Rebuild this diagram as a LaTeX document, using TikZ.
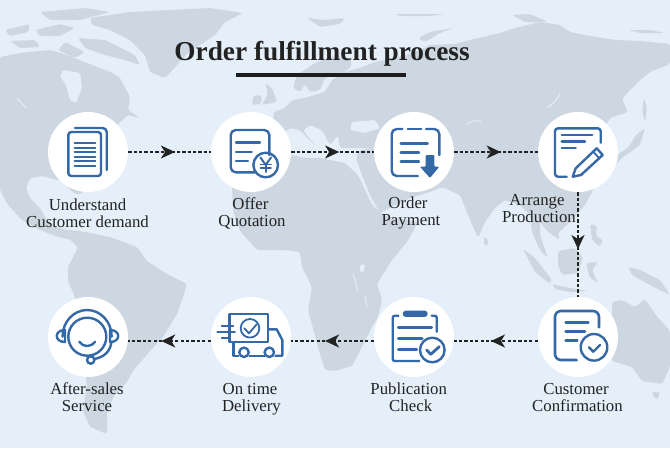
\documentclass[tikz,border=0pt]{standalone}
\usepackage{fontspec}
\setmainfont{Liberation Serif}
\usetikzlibrary{arrows.meta,decorations.markings}
\definecolor{sea}{HTML}{E4EFFA}
\definecolor{land}{HTML}{CDD7E1}
\definecolor{iconblue}{HTML}{3568A6}
\definecolor{inkdark}{HTML}{222222}
\tikzset{
  landmass/.style={fill=land,draw=none,rounded corners=2.5pt},
  seapatch/.style={fill=sea,draw=none,rounded corners=1.5pt},
  lakeline/.style={draw=sea,line width=1pt,line cap=round},
  stepcircle/.style={circle,fill=white,draw=none,minimum size=80pt,inner sep=0pt},
  icon/.style={draw=iconblue,line width=2.4pt,line cap=round,line join=round},
  iconfill/.style={fill=iconblue,draw=none},
  steplabel/.style={font=\fontsize{16.8}{17}\selectfont,text=inkdark,align=center,inner sep=0pt},
  flow/.style={draw=inkdark,line width=1.5pt,dash pattern=on 3.3pt off 2.1pt,
    postaction={decorate},
    decoration={markings,mark=at position #1 with {\arrow[inkdark]{Stealth[length=14pt,width=13pt,inset=4pt]}}}}
}
\begin{document}
\begin{tikzpicture}[x=1pt,y=-1pt]
\useasboundingbox (0,0) rectangle (670,448);
\fill[sea] (0,0) rectangle (670,448);
% --- world map ---
% North America
\fill[landmass] (0,57) -- (20,53) -- (50,50) -- (67,55) -- (87,63) -- (100,68) -- (113,73) -- (120,78) -- (130,97) -- (128,110) -- (140,118) -- (128,115) -- (118,124) -- (110,150) -- (90,188) -- (78,195) -- (70,190) -- (66,182) -- (58,180) -- (42,176) -- (30,178) -- (26,188) -- (30,198) -- (40,208) -- (47,220) -- (58,228) -- (68,230) -- (78,236) -- (72,240) -- (58,237) -- (40,230) -- (22,220) -- (8,205) -- (0,190) -- cycle;
\fill[seapatch] (63,70) -- (80,73) -- (82,88) -- (76,103) -- (70,100) -- (66,85) -- (60,76) -- cycle;
\draw[lakeline] (17,98) -- (26,108);
\fill[landmass] (78,38) -- (105,40) -- (135,55) -- (140,65) -- (125,60) -- (105,55) -- (85,48) -- cycle;
\fill[landmass] (35,30) -- (60,24) -- (75,28) -- (60,36) -- (40,36) -- cycle;
\fill[landmass] (5,30) -- (30,24) -- (28,32) -- (10,36) -- cycle;
\fill[landmass] (40,12) -- (85,8) -- (110,12) -- (80,20) -- (50,20) -- cycle;
\fill[landmass] (65,42) -- (85,52) -- (75,58) -- (58,50) -- cycle;
\fill[landmass] (10,41) -- (35,40) -- (40,47) -- (20,48) -- cycle;
% Greenland
\fill[landmass] (90,18) -- (130,12) -- (170,10) -- (210,8) -- (243,13) -- (225,22) -- (215,35) -- (200,45) -- (190,50) -- (180,62) -- (165,78) -- (150,72) -- (145,55) -- (130,40) -- (110,30) -- (92,25) -- cycle;
% South America
\fill[landmass] (57,229) -- (80,231) -- (110,237) -- (137,247) -- (147,261) -- (167,274) -- (187,284) -- (183,297) -- (177,314) -- (163,337) -- (150,351) -- (132,372) -- (128,381) -- (115,394) -- (107,411) -- (107,434) -- (90,427) -- (83,411) -- (87,384) -- (80,340) -- (75,297) -- (68,281) -- (68,267) -- (78,247) -- (67,237) -- cycle;
% Africa
\fill[landmass] (232,186) -- (240,165) -- (262,150) -- (291,155) -- (305,158) -- (320,158) -- (345,163) -- (358,175) -- (372,205) -- (385,216) -- (418,222) -- (407,242) -- (392,260) -- (377,284) -- (382,300) -- (378,317) -- (372,327) -- (362,347) -- (352,366) -- (335,371) -- (325,370) -- (320,354) -- (308,310) -- (312,287) -- (302,267) -- (300,252) -- (285,250) -- (257,250) -- (240,231) -- (233,210) -- cycle;
\draw[lakeline] (353,274) -- (358,291);
\draw[lakeline] (365,296) -- (367,307);
\fill[seapatch] (360,265) -- (365,264) -- (364,272) -- (360,272) -- cycle;
% Eurasia
\fill[landmass] (272,128) -- (274,112) -- (285,108) -- (292,100) -- (305,98) -- (325,92) -- (332,80) -- (345,72) -- (360,68) -- (375,62) -- (395,58) -- (415,52) -- (430,45) -- (455,44) -- (470,40) -- (500,33) -- (515,28) -- (540,22) -- (560,25) -- (570,32) -- (590,36) -- (615,40) -- (640,41) -- (670,44) -- (670,64) -- (650,72) -- (640,80) -- (628,92) -- (622,100) -- (628,112) -- (610,118) -- (600,135) -- (610,150) -- (600,175) -- (592,192) -- (585,205) -- (570,222) -- (558,233) -- (560,240) -- (548,232) -- (540,222) -- (540,235) -- (548,258) -- (540,250) -- (532,232) -- (530,215) -- (520,205) -- (505,200) -- (495,208) -- (485,222) -- (478,238) -- (468,215) -- (460,195) -- (442,187) -- (430,192) -- (410,198) -- (395,205) -- (380,213) -- (370,195) -- (362,175) -- (356,158) -- (360,150) -- (375,148) -- (345,148) -- (340,148) -- (338,135) -- (330,145) -- (322,130) -- (310,125) -- (303,130) -- (312,142) -- (316,147) -- (300,130) -- (290,128) -- (280,135) -- cycle;
% Scandinavia
\fill[landmass] (293,88) -- (297,75) -- (315,63) -- (335,56) -- (350,58) -- (352,65) -- (345,72) -- (325,78) -- (320,90) -- (310,92) -- (305,84) -- (300,92) -- cycle;
% inland seas
\fill[seapatch] (352,122) -- (375,120) -- (380,128) -- (365,133) -- (350,130) -- cycle;
\draw[lakeline] (548,107) .. controls (555,103) and (558,98) .. (560,93);
\draw[lakeline] (467,125) .. controls (470,120) and (474,121) .. (481,121);
% British Isles and northern islands
\fill[landmass] (265,83) -- (272,88) -- (277,102) -- (262,105) -- (268,94) -- cycle;
\fill[landmass] (253,96) -- (262,95) -- (261,104) -- (252,105) -- cycle;
\fill[landmass] (307,18) -- (325,20) -- (345,18) -- (340,24) -- (320,27) -- cycle;
\fill[landmass] (418,38) -- (430,32) -- (453,28) -- (440,33) -- (425,42) -- cycle;
\fill[landmass] (395,14) -- (445,14) -- (430,16) -- (400,16) -- cycle;
\fill[landmass] (512,15) -- (530,14) -- (548,22) -- (525,22) -- cycle;
\fill[landmass] (628,30) -- (650,30) -- (665,33) -- (640,33) -- cycle;
% Japan and Sakhalin
\fill[landmass] (645,128) -- (640,145) -- (622,158) -- (615,165) -- (612,158) -- (628,148) -- (636,135) -- cycle;
\fill[landmass] (644,98) -- (647,108) -- (645,122) -- (642,110) -- cycle;
% South-east Asia
\fill[landmass] (558,251) -- (575,248) -- (583,258) -- (578,273) -- (562,275) -- (558,265) -- cycle;
\fill[landmass] (523,249) -- (535,258) -- (552,280) -- (550,284) -- (535,272) -- cycle;
\fill[landmass] (552,284) -- (570,288) -- (588,291) -- (570,292) -- (555,289) -- cycle;
\fill[landmass] (586,263) -- (598,262) -- (592,270) -- (598,283) -- (590,278) -- cycle;
\fill[landmass] (590,224) -- (597,226) -- (596,236) -- (603,240) -- (600,247) -- (592,240) -- cycle;
\fill[landmass] (628,267) -- (640,270) -- (660,280) -- (670,295) -- (650,285) -- (632,275) -- cycle;
\fill[landmass] (484,236) -- (488,240) -- (488,246) -- (484,245) -- cycle;
% Australia
\fill[landmass] (612,302) -- (622,300) -- (635,307) -- (645,299) -- (655,314) -- (670,331) -- (670,367) -- (662,384) -- (642,381) -- (632,367) -- (612,361) -- cycle;
\fill[landmass] (652,392) -- (660,392) -- (658,399) -- (654,398) -- cycle;
% --- title ---
\node[font=\fontsize{27.3}{30}\selectfont\bfseries,text=inkdark,inner sep=0pt] (title) at (322,54) {Order fulfillment process};
\fill[fill=inkdark!85!black] (236,73) rectangle (406,77);
% --- step circles ---
\node[stepcircle] (s1) at (88,152) {};
\node[stepcircle] (s2) at (251,152) {};
\node[stepcircle] (s3) at (414,152) {};
\node[stepcircle] (s4) at (578,152) {};
\node[stepcircle] (s5) at (578,337) {};
\node[stepcircle] (s6) at (414,337) {};
\node[stepcircle] (s7) at (251,337) {};
\node[stepcircle] (s8) at (88,337) {};
% --- connectors ---
\draw[flow=0.566] (s1) -- (s2);
\draw[flow=0.58] (s2) -- (s3);
\draw[flow=0.556] (s3) -- (s4);
\draw[flow=0.543] (s4) -- (s5);
\draw[flow=0.56] ([yshift=-4pt]s5.west) -- ([yshift=-4pt]s6.east);
\draw[flow=0.59] ([yshift=-4pt]s6.west) -- ([yshift=-4pt]s7.east);
\draw[flow=0.6] ([yshift=-4pt]s7.west) -- ([yshift=-4pt]s8.east);
% --- icon 1: documents ---
\draw[icon,rounded corners=3pt] (68.3,132) rectangle (101,176);
\draw[icon,rounded corners=4pt] (75,128) -- (106.7,128) -- (106.7,170);
\foreach \yy in {143.3,147.7,152.3,156.7,161,165.7}
  \draw[icon,line width=1.8pt] (74.5,\yy) -- (95.5,\yy);
% --- icon 2: quotation ---
\draw[icon,rounded corners=5pt] (269.3,155) -- (269.3,130) -- (230.7,130) -- (230.7,172.3) -- (255,172.3);
\draw[icon] (236,142.3) -- (260,142.3);
\draw[icon] (236,151.7) -- (251.7,151.7);
\draw[icon] (236,161) -- (248,161);
\draw[icon] (265.7,165) circle (12.3);
\draw[icon,line width=2pt] (260.5,157.5) -- (265.7,165) -- (271,157.5);
\draw[icon,line width=2pt] (265.7,165) -- (265.7,172);
\draw[icon,line width=1.7pt] (260.5,164.5) -- (271,164.5);
\draw[icon,line width=1.7pt] (260.5,168.3) -- (271,168.3);
% --- icon 3: payment ---
\draw[icon,rounded corners=5pt] (402.5,129) -- (391.7,129) -- (391.7,176) -- (418,176);
\draw[icon] (407.7,129) -- (421.3,129);
\draw[icon,rounded corners=5pt] (426,129) -- (439.3,129) -- (439.3,155);
\draw[icon] (400.7,143.3) -- (427.7,143.3);
\draw[icon] (400.7,152.3) -- (419,152.3);
\draw[icon] (400.7,161.3) -- (419,161.3);
\fill[iconfill,rounded corners=1pt] (425.7,155) -- (434.3,155) -- (434.3,166.7) -- (439.3,166.7) -- (430,178) -- (420,166.7) -- (425.7,166.7) -- cycle;
% --- icon 4: production ---
\draw[icon,rounded corners=3pt] (600.7,142.7) -- (600.7,128.3) -- (555,128.3) -- (555,176.7) -- (566.7,176.7);
\draw[icon] (561.7,135) -- (592.3,135);
\draw[icon] (561.7,141.3) -- (585,141.3);
\draw[icon] (561.7,147.7) -- (575.7,147.7);
\draw[icon] (572.7,176.7) -- (575.7,168.3) -- (596.7,148.3) -- (602.7,155) -- (581,175) -- cycle;
\draw[icon,line width=1.8pt] (593.3,151.7) -- (599.3,158.3);
% --- icon 5: confirmation ---
\draw[icon,line width=2.6pt,rounded corners=6pt] (599,327.3) -- (599,311) -- (555,311) -- (555,360) -- (576.7,360);
\draw[icon,line width=2.8pt] (565.7,322.7) -- (588.3,322.7);
\draw[icon,line width=2.8pt] (565.7,331.3) -- (585,331.3);
\draw[icon,line width=2.8pt] (565.7,340.7) -- (577.3,340.7);
\draw[icon,line width=2.4pt] (594,347.3) circle (13.3);
\draw[icon] (589,347.3) -- (593.3,351.7) -- (600,345);
% --- icon 6: publication check ---
\fill[iconfill,rounded corners=3pt] (402.7,310.7) rectangle (427.7,316.9);
\draw[icon,line cap=butt,rounded corners=2pt] (399,315.7) -- (392.7,315.7) -- (392.7,361) -- (420,361);
\draw[icon,rounded corners=2pt] (431.7,315.7) -- (436.7,315.7) -- (436.7,331.7);
\draw[icon,line width=2.6pt] (398.3,327.7) -- (431.7,327.7);
\draw[icon,line width=2.6pt] (398.3,338.7) -- (422.3,338.7);
\draw[icon,line width=2.6pt] (398.3,349.7) -- (416.7,349.7);
\draw[icon,line width=2.4pt] (432.3,350) circle (12.3);
\draw[icon,line width=2.8pt] (426.7,350) -- (430.7,354.3) -- (439.3,346.7);
% --- icon 7: truck ---
\draw[icon,line cap=butt] (229.3,314) rectangle (267.7,341.7);
\draw[icon,line width=1.8pt] (250,328.3) circle (9.3);
\draw[icon,line width=1.8pt] (244.3,328.3) -- (249,333.3) -- (256.7,324.3);
\draw[icon,line width=1.8pt] (221.7,325.7) -- (233.3,325.7);
\draw[icon,line width=1.8pt] (217.3,331.7) -- (235,331.7);
\draw[icon,line width=1.8pt] (221.7,337.7) -- (230,337.7);
\draw[icon,line cap=butt] (267.7,329.3) -- (276.7,329.3) -- (282.3,340) -- (282.3,355.7) -- (274.5,355.7);
\draw[icon,line cap=butt] (233.3,341.7) -- (233.3,355.7) -- (239.3,355.7);
\draw[icon,line cap=butt] (248.7,355.7) -- (264.6,355.7);
\draw[icon] (244,352.3) circle (4.7);
\draw[icon] (269.3,352.3) circle (4.7);
% --- icon 8: headset ---
\draw[icon] (87.3,336.7) circle (19);
\draw[icon] (62.5,336.7) arc (180:360:24.6 and 26.7);
\draw[icon] (65,330) .. controls (54,330) and (54,342) .. (65,342) -- cycle;
\draw[icon] (110,330) .. controls (121,330) and (121,342) .. (110,342) -- cycle;
\draw[icon] (111.5,342) .. controls (110,352) and (104,357) .. (94.5,359);
\draw[icon] (90.7,360) circle (3.7);
\draw[icon] (79.3,341.7) .. controls (83,347.5) and (91,347.5) .. (95,341.7);
% --- labels ---
\node[steplabel] (l1) at (87.5,213) {Understand\\Customer demand};
\node[steplabel] (l2) at (252,213) {\mbox{Offer\kern3pt}\\Quotation};
\node[steplabel] (l3) at (411,213) {\mbox{Order\kern6pt}\\Payment};
\node[steplabel] (l4) at (539,208.5) {\mbox{Arrange\kern4pt}\\Production};
\node[steplabel] (l5) at (87,397.5) {After-sales\\Service};
\node[steplabel] (l6) at (251.5,398.8) {\mbox{On time\kern3pt}\\Delivery};
\node[steplabel] (l7) at (408.7,397.5) {\mbox{Publication\kern0pt}\\\mbox{Check\kern-4pt}};
\node[steplabel] (l8) at (577.5,397.5) {\mbox{Customer\kern3pt}\\Confirmation};
\end{tikzpicture}
\end{document}
